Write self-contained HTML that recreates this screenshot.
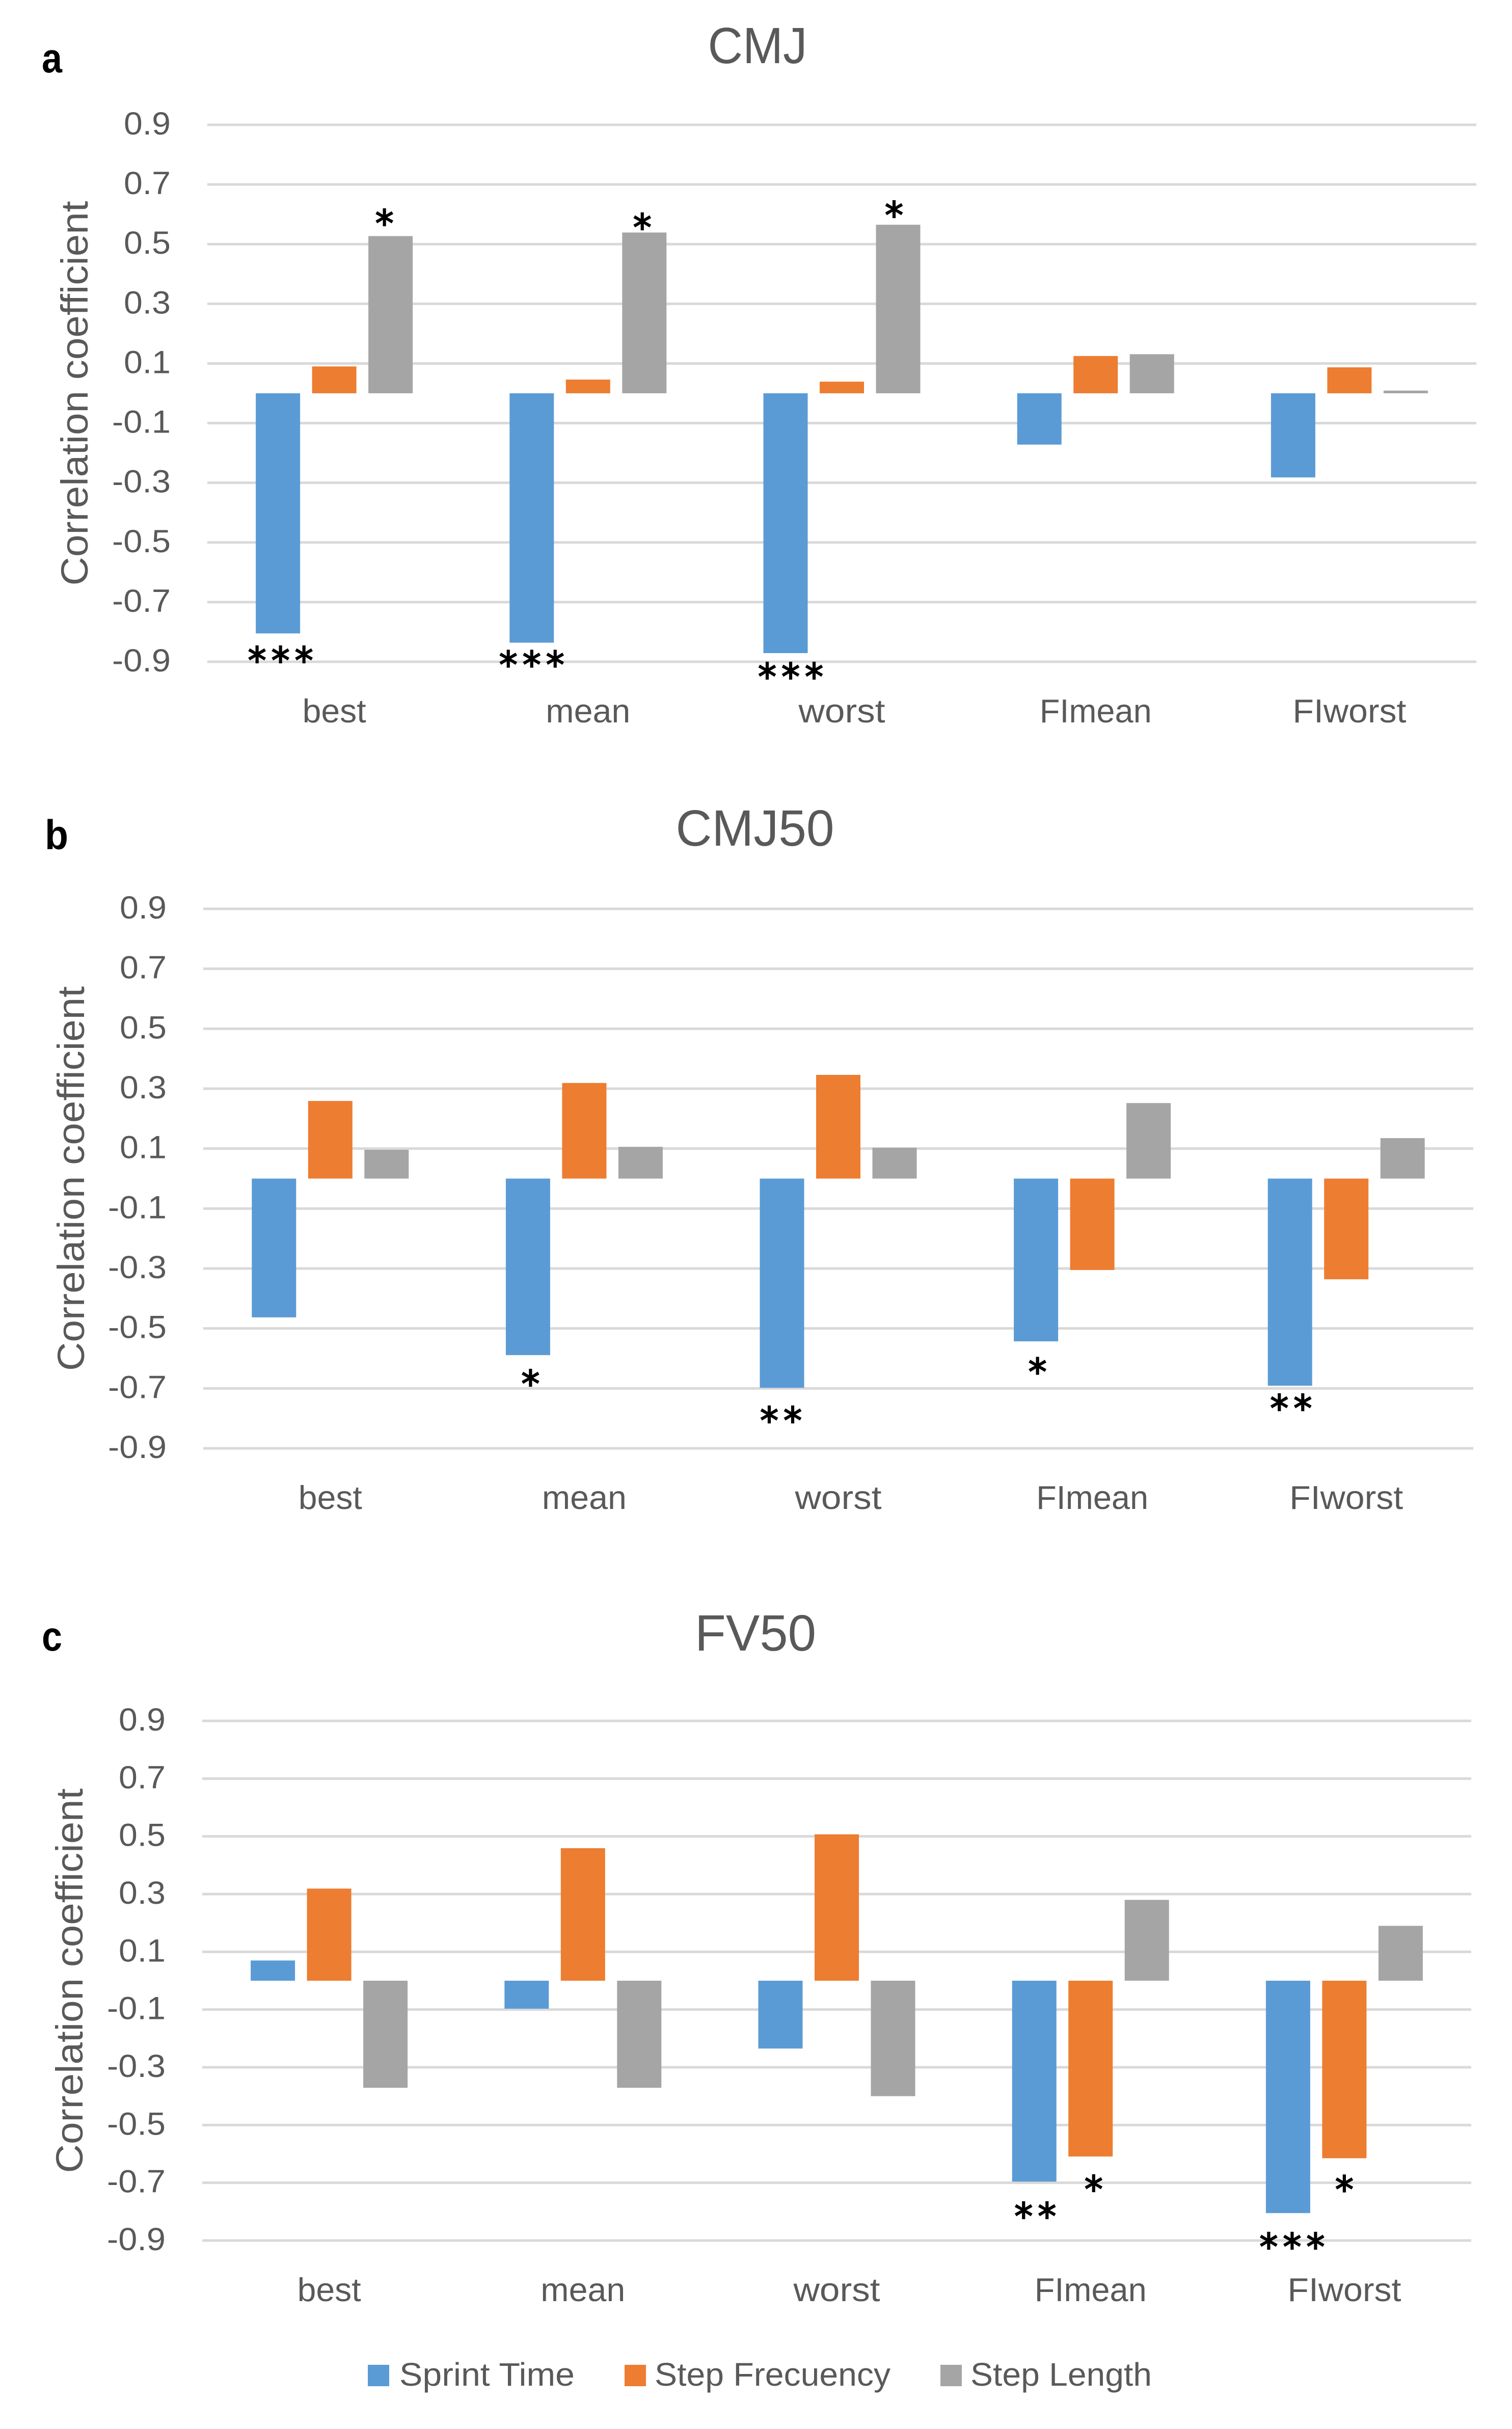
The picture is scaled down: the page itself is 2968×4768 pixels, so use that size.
<!DOCTYPE html>
<html lang="en">
<head>
<meta charset="utf-8">
<title>Correlation coefficients: CMJ, CMJ50, FV50</title>
<style>
html,body{margin:0;padding:0;background:#fff;}
svg{display:block;}
text{font-family:"Liberation Sans",sans-serif;fill:#595959;}
</style>
</head>
<body>
<svg id="figure" xmlns="http://www.w3.org/2000/svg" width="2968" height="4768" viewBox="0 0 2968 4768"></svg>
<script>
const categories = ['best', 'mean', 'worst', 'FImean', 'FIworst'];
const tickValues = [0.9, 0.7, 0.5, 0.3, 0.1, -0.1, -0.3, -0.5, -0.7, -0.9];
const tickLabels = ['0.9', '0.7', '0.5', '0.3', '0.1', '-0.1', '-0.3', '-0.5', '-0.7', '-0.9'];
const seriesNames = ['Sprint Time', 'Step Frecuency', 'Step Length'];

const cmjSprint = [-0.805, -0.836, -0.871, -0.172, -0.282];
const cmjFreq = [0.09, 0.046, 0.039, 0.125, 0.087];
const cmjLength = [0.527, 0.539, 0.565, 0.131, 0.009];

const cmj50Sprint = [-0.463, -0.589, -0.698, -0.543, -0.691];
const cmj50Freq = [0.259, 0.319, 0.346, -0.305, -0.336];
const cmj50Length = [0.096, 0.106, 0.103, 0.252, 0.135];

const fv50Sprint = [0.07, -0.097, -0.235, -0.696, -0.805];
const fv50Freq = [0.319, 0.459, 0.507, -0.609, -0.615];
const fv50Length = [-0.371, -0.371, -0.4, 0.28, 0.19];

const seriesColors = ['#5b9bd5', '#ed7d31', '#a5a5a5'];
const NS = 'http://www.w3.org/2000/svg';
const fig = document.getElementById('figure');

function mk(tag, attrs, parent, txt) {
  const el = document.createElementNS(NS, tag);
  for (const k in attrs) el.setAttribute(k, attrs[k]);
  if (txt !== undefined) el.textContent = txt;
  parent.appendChild(el);
  return el;
}

const panels = [
  { key: 'cmj', letter: 'a', title: 'CMJ', titleW: 195, titleX: 1487, titleY: 124, letterX: 82, letterY: 142, letterW: 40,
    x0: 407, x1: 2898, yTop: 245, yBottom: 1299, yTitleX: 172, values: [cmjSprint, cmjFreq, cmjLength],
    marks: [
      { cat: 0, ser: 0, text: '***', dx: 5, dy: 43 },
      { cat: 1, ser: 0, text: '***', dx: 0, dy: 33 },
      { cat: 2, ser: 0, text: '***', dx: 10, dy: 36 },
      { cat: 0, ser: 2, text: '*', dx: -12, dy: -35 },
      { cat: 1, ser: 2, text: '*', dx: -4, dy: -20 },
      { cat: 2, ser: 2, text: '*', dx: -8, dy: -29 }
    ] },
  { key: 'cmj50', letter: 'b', title: 'CMJ50', titleW: 311, titleX: 1482, titleY: 1660, letterX: 88, letterY: 1667, letterW: 46,
    x0: 399, x1: 2892, yTop: 1784, yBottom: 2843, yTitleX: 165, values: [cmj50Sprint, cmj50Freq, cmj50Length],
    marks: [
      { cat: 1, ser: 0, text: '*', dx: 5, dy: 46 },
      { cat: 2, ser: 0, text: '**', dx: -2, dy: 54 },
      { cat: 3, ser: 0, text: '*', dx: 3, dy: 50 },
      { cat: 4, ser: 0, text: '**', dx: 2, dy: 34 }
    ] },
  { key: 'fv50', letter: 'c', title: 'FV50', titleW: 238, titleX: 1483, titleY: 3240, letterX: 82, letterY: 3240, letterW: 40,
    x0: 397, x1: 2888, yTop: 3378, yBottom: 4398, yTitleX: 162, values: [fv50Sprint, fv50Freq, fv50Length],
    marks: [
      { cat: 3, ser: 0, text: '**', dx: 2, dy: 58 },
      { cat: 3, ser: 1, text: '*', dx: 6, dy: 54 },
      { cat: 4, ser: 0, text: '***', dx: 8, dy: 56 },
      { cat: 4, ser: 1, text: '*', dx: 0, dy: 51 }
    ] }
];

const catLabelWidths = [125, 166, 170, 220, 223];
const BAR_W = 87, SERIES_STEP = 110.5, STAR_SIZE = 72, STAR_PITCH = 46;

panels.forEach(function (p) {
  const yScale = function (v) {
    const mid = (p.yTop + p.yBottom) / 2;
    const perUnit = (p.yBottom - p.yTop) / 1.8;
    return mid - v * perUnit;
  };
  const catX = function (i) {
    return p.x0 + (p.x1 - p.x0) * (i + 0.5) / categories.length;
  };

  const g = mk('g', {}, fig);
  
  

  const letter = mk('text', { x: p.letterX, y: p.letterY, 'font-size': 82, 'font-weight': 'bold', textLength: p.letterW, lengthAdjust: 'spacingAndGlyphs', style: 'fill:#000' }, g, p.letter);
  
  

  const title = mk('text', { x: p.titleX, y: p.titleY, 'font-size': 100, 'text-anchor': 'middle', textLength: p.titleW, lengthAdjust: 'spacingAndGlyphs' }, g, p.title);
  
  

  const midY = (p.yTop + p.yBottom) / 2;
  const yTitle = mk('text', { transform: 'translate(' + p.yTitleX + ',' + midY + ') rotate(-90)', 'font-size': 74, 'text-anchor': 'middle', textLength: 755, lengthAdjust: 'spacingAndGlyphs' }, g, 'Correlation coefficient');
  
  

  tickValues.forEach(function (v, i) {
    const line = mk('line', { x1: p.x0, x2: p.x1, y1: yScale(v), y2: yScale(v), stroke: '#d9d9d9', 'stroke-width': 5 }, g);
    
    
    const lab = mk('text', { x: p.x0 - 72, y: yScale(v) + 19, 'font-size': 63, 'text-anchor': 'end', textLength: tickLabels[i].length > 3 ? 115 : 92, lengthAdjust: 'spacingAndGlyphs' }, g, tickLabels[i]);
    
    
  });

  categories.forEach(function (c, i) {
    const lab = mk('text', { x: catX(i), y: p.yBottom + 119, 'font-size': 65, 'text-anchor': 'middle', textLength: catLabelWidths[i], lengthAdjust: 'spacingAndGlyphs' }, g, c);
    
    
  });

  p.values.forEach(function (vals, s) {
    vals.forEach(function (v, i) {
      const zero = yScale(0), end = yScale(v);
      const cx = catX(i) + (s - 1) * SERIES_STEP;
      const bar = mk('rect', { x: cx - BAR_W / 2, y: Math.min(zero, end), width: BAR_W, height: Math.abs(end - zero), fill: seriesColors[s] }, g);
      
      
    });
  });

  p.marks.forEach(function (m) {
    const cx = catX(m.cat) + (m.ser - 1) * SERIES_STEP + m.dx;
    const cy = yScale(p.values[m.ser][m.cat]) + m.dy;
    const n = m.text.length;
    const xs = [];
    for (let k = 0; k < n; k++) xs.push(cx + (k - (n - 1) / 2) * STAR_PITCH);
    const star = mk('text', { x: xs.join(' '), y: cy + STAR_SIZE * 0.49, 'font-size': STAR_SIZE, 'text-anchor': 'middle', stroke: '#000', 'stroke-width': 2.2, style: 'font-family:\'DejaVu Sans\',sans-serif;fill:#000' }, g, m.text);
    
    
  });
});

const legendIconX = [722, 1226, 1846];
const legendTextX = [784, 1285, 1905];
const legendTextW = [344, 463, 356];
const legend = mk('g', {}, fig);


seriesNames.forEach(function (name, i) {
  const icon = mk('rect', { x: legendIconX[i], y: 4642, width: 42, height: 42, fill: seriesColors[i] }, legend);
  
  
  const t = mk('text', { x: legendTextX[i], y: 4683, 'font-size': 64, textLength: legendTextW[i], lengthAdjust: 'spacingAndGlyphs' }, legend, name);
  
  
});
</script>
</body>
</html>
